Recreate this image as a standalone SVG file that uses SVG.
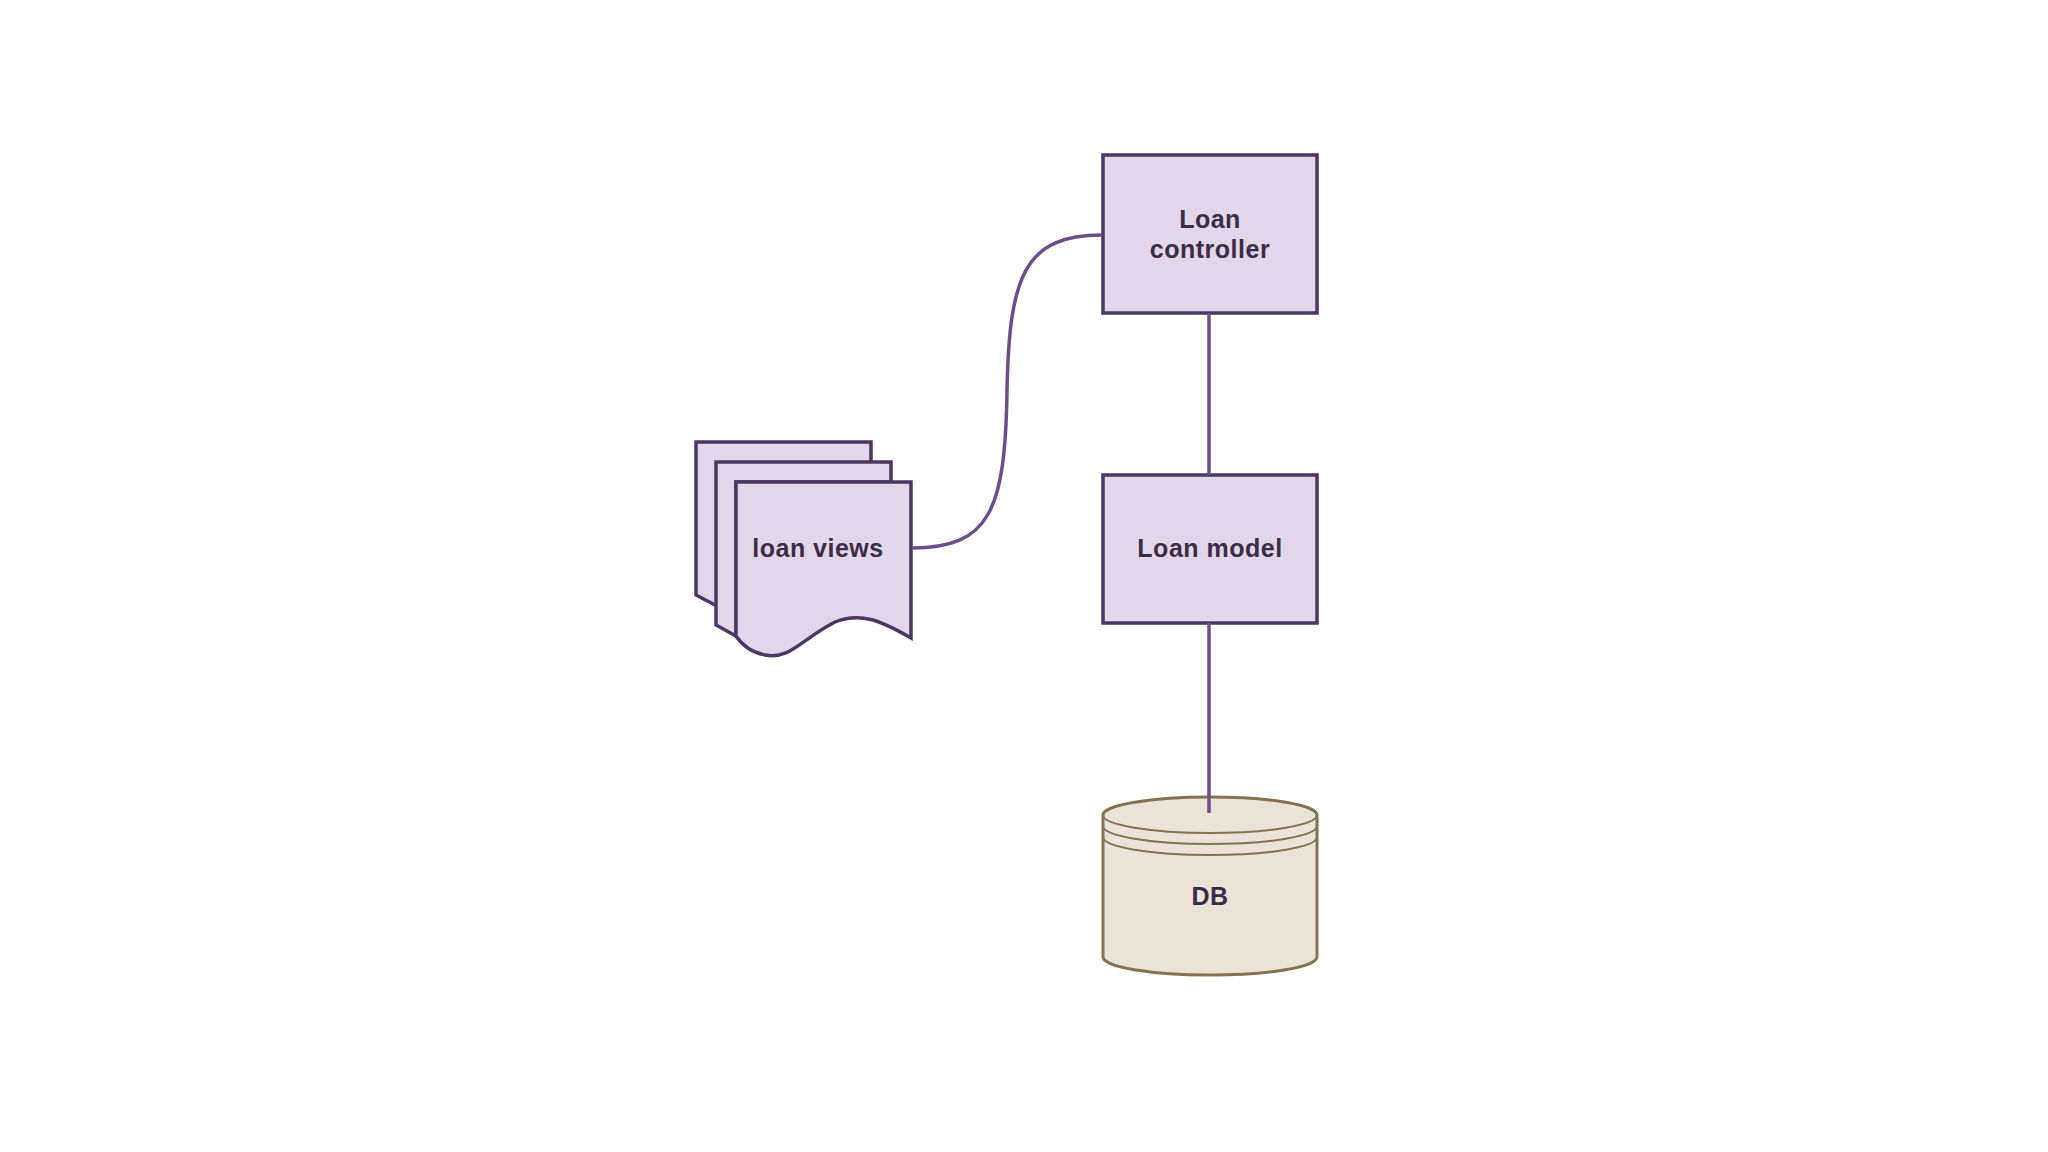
<svg xmlns="http://www.w3.org/2000/svg" width="2048" height="1152" viewBox="0 0 2048 1152">
<style>
.box{fill:#e2d7ea;stroke:#4b3762;stroke-width:3.5}
.lbl{font-family:"Liberation Sans",Arial,sans-serif;font-weight:bold;font-size:25px;letter-spacing:0.5px;fill:#3b2d4a;text-anchor:middle}
.conn{fill:none;stroke:#6b4f8c;stroke-width:3.5}
.db{fill:#e9e3d8;stroke:#85724e;stroke-width:3}
.dbl{fill:none;stroke:#85724e;stroke-width:2}
</style>
<rect width="2048" height="1152" fill="#ffffff"/>
<g id="loan-controller">
<rect class="box" x="1103" y="155" width="214" height="158"/>
<text class="lbl" x="1210" y="228">Loan</text>
<text class="lbl" x="1210" y="258">controller</text>
</g>
<g id="loan-model">
<rect class="box" x="1103" y="475" width="214" height="148"/>
<text class="lbl" x="1210" y="557">Loan model</text>
</g>
<g id="db">
<path class="db" d="M1103,815 L1103,957 A107,18 0 0 0 1317,957 L1317,815 A107,18 0 0 0 1103,815 Z"/>
<path class="dbl" d="M1103,815 A107,18 0 0 0 1317,815"/>
<path class="dbl" d="M1103,826 A107,18 0 0 0 1317,826"/>
<path class="dbl" d="M1103,837 A107,18 0 0 0 1317,837"/>
<text class="lbl" x="1210" y="905">DB</text>
</g>
<g id="loan-views">
<path class="box" d="M696,442 L871,442 L871,482 L736,482 L736,616 L696,595 Z"/>
<path class="box" d="M716,462 L891,462 L891,482 L736,482 L736,636 L716,625 Z"/>
<path class="box" d="M736,482 L911,482 L911,638 C880,620 860,612 835,622 C800,640 790,660 765,655 C750,652 742,645 736,636 Z"/>
<text class="lbl" x="818" y="557">loan views</text>
</g>
<g id="connectors">
<path class="conn" d="M912,548 C990,548 1005,510 1007,392 C1009,275 1025,235 1102,235"/>
<line class="conn" x1="1209" y1="313" x2="1209" y2="475"/>
<line class="conn" x1="1209" y1="623" x2="1209" y2="813"/>
</g>
</svg>
